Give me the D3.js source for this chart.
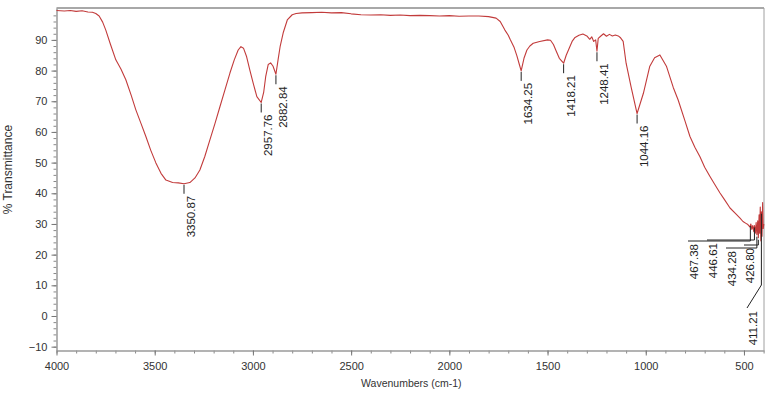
<!DOCTYPE html>
<html>
<head>
<meta charset="utf-8">
<script src="https://cdn.jsdelivr.net/npm/d3@7"></script>
<style>
  body { margin: 0; background: #fff; }
  text { font-family: "Liberation Sans", Arial, sans-serif; }
</style>
</head>
<body>
<div id="chart"></div>
<script>
// FTIR spectrum (wavenumber cm-1, %T)
var wavenumbers = [4000, 3960, 3930, 3900, 3870, 3840, 3817, 3800, 3783, 3765, 3749, 3725, 3698, 3672, 3647, 3620, 3596, 3570, 3545, 3520, 3494, 3468, 3443, 3409, 3380, 3350.87, 3321, 3295, 3270, 3245, 3219, 3193, 3168, 3142, 3117, 3095, 3075, 3061, 3048, 3032, 3015, 2999, 2980, 2957.76, 2945, 2935, 2922, 2910, 2898, 2882.84, 2872, 2861, 2845, 2825, 2800, 2780,
  2750, 2700, 2650, 2600, 2550, 2500, 2450, 2400, 2350, 2300, 2250, 2200, 2150, 2100, 2050, 2000, 1950, 1900, 1850, 1800, 1762, 1741, 1717, 1700, 1690, 1670, 1656, 1645, 1634.25, 1620, 1605, 1590, 1573, 1540, 1500, 1485, 1470, 1455, 1440, 1418.21, 1405, 1393, 1375, 1360, 1340, 1320, 1300, 1285, 1275, 1265, 1255, 1248.41, 1242, 1230, 1215, 1200, 1185, 1170, 1155, 1140, 1130, 1115, 1100, 1075, 1044.16, 1012, 980, 955, 928, 894, 860, 835, 800, 775, 750, 724, 700, 673, 650, 622, 600, 571, 545, 520, 505, 490, 480, 470, 465, 460, 455, 450, 446.61, 442, 438, 434.28, 430, 426.8, 423, 420, 417, 414, 411.21, 408, 405, 402, 399]
var transmittance = [99.6, 99.4, 99.6, 99.3, 99.5, 99.1, 99.0, 98.6, 97.8, 95.8, 93.2, 88.5, 83.5, 80.5, 77.0, 72.0, 67.2, 62.8, 58.5, 54.0, 49.9, 46.5, 44.3, 43.5, 43.4, 43.1, 43.5, 45.0, 47.6, 52.0, 57.4, 62.8, 68.2, 73.8, 79.2, 83.5, 86.7, 87.8, 87.3, 84.5, 80.0, 76.0, 71.5, 69.6, 73.0, 78.0, 82.0, 82.5, 81.5, 78.8, 83.5, 88.0, 92.5, 96.5, 98.2, 98.6,
  98.8, 98.9, 99.0, 98.8, 98.9, 98.5, 98.2, 98.1, 98.2, 98.0, 98.1, 97.9, 98.0, 97.9, 97.8, 97.9, 97.7, 97.8, 97.8, 97.6, 97.1, 96.0, 93.2, 91.5, 90.1, 87.5, 84.8, 82.3, 79.9, 84.0, 86.7, 88.0, 88.9, 89.5, 90.0, 89.9, 88.5, 86.2, 84.0, 82.4, 85.0, 86.8, 89.5, 90.8, 91.5, 91.9, 91.3, 90.2, 91.0, 89.5, 90.0, 86.3, 90.5, 91.2, 92.0, 91.2, 91.8, 91.3, 91.6, 91.3, 90.8, 89.5, 82.4, 74.8, 66.0, 72.6, 81.3, 84.2, 85.1, 81.3, 74.5, 70.4, 63.5, 58.5, 55.0, 51.9, 48.5, 45.5, 43.0, 40.1, 38.0, 35.2, 33.5, 31.9, 30.8, 30.2, 29.8, 29.0, 30.0, 28.2, 29.5, 27.5, 29.5, 27.0, 30.5, 26.5, 31.0, 25.5, 33.0, 27.0, 35.5, 24.5, 34.0, 26.0, 37.0, 28.5, 30.0]

var peakWaves = [3350.87, 2957.76, 2882.84, 1634.25, 1418.21, 1248.41, 1044.16, 467.38, 446.61, 434.28, 426.80, 411.21]

var xTicks = [4000, 3500, 3000, 2500, 2000, 1500, 1000, 500]
var yTicks = [-10, 0, 10, 20, 30, 40, 50, 60, 70, 80, 90]

// crowded labels at the low end get leader lines (pixel layout only)
var leaderLayout = {
  "467.38": { labelX: 688, elbowY: 241 },
  "446.61": { labelX: 707, elbowY: 240 },
  "434.28": { labelX: 726, elbowY: 248 },
  "426.80": { labelX: 744, elbowY: 245 },
  "411.21": { labelX: 747, elbowY: 285, dropY: 308 }
}

function drawChart() {
  var dimensions = {
    width: 773,
    height: 395,
    margin: { top: 8, right: 9, bottom: 44.5, left: 56.5 }
  }
  dimensions.boundedWidth = dimensions.width - dimensions.margin.left - dimensions.margin.right
  dimensions.boundedHeight = dimensions.height - dimensions.margin.top - dimensions.margin.bottom

  var data = wavenumbers.map((w, i) => ({ w: w, t: transmittance[i] }))
  var peakValue = w => {
    var i = wavenumbers.indexOf(w)
    return i >= 0 ? transmittance[i] : transmittance[d3.bisector(d => -d).left(wavenumbers, -w)]
  }

  var wrapper = d3.select("#chart")
    .append("svg")
    .attr("width", dimensions.width)
    .attr("height", dimensions.height)

  var bounds = wrapper.append("g")
    .attr("transform", `translate(${dimensions.margin.left},${dimensions.margin.top})`)

  var xScale = d3.scaleLinear()
    .domain([4000, 398])
    .range([0, dimensions.boundedWidth])

  var yScale = d3.scaleLinear()
    .domain([-11.25, 100.4])
    .range([dimensions.boundedHeight, 0])

  // frame: top and right edges
  bounds.append("line")
    .attr("x1", 0).attr("x2", dimensions.boundedWidth)
    .attr("y1", 0).attr("y2", 0)
    .attr("stroke", "#a8a8a8").attr("stroke-width", 2)
  bounds.append("line")
    .attr("x1", dimensions.boundedWidth).attr("x2", dimensions.boundedWidth)
    .attr("y1", 0).attr("y2", dimensions.boundedHeight)
    .attr("stroke", "#a0a0a0").attr("stroke-width", 1)

  // minor ticks
  var xMinorAxis = d3.axisBottom(xScale)
    .tickValues(d3.range(4000, 398, -100))
    .tickSize(3).tickFormat("")
  var yMinorAxis = d3.axisLeft(yScale)
    .tickValues(d3.range(-10, 100, 2))
    .tickSize(3).tickFormat("")

  bounds.append("g")
    .attr("transform", `translate(0,${dimensions.boundedHeight})`)
    .call(xMinorAxis)
    .call(g => g.select(".domain").remove())
    .call(g => g.selectAll("line").attr("stroke", "#888"))
  bounds.append("g")
    .call(yMinorAxis)
    .call(g => g.select(".domain").remove())
    .call(g => g.selectAll("line").attr("stroke", "#888"))

  var xAxisGenerator = d3.axisBottom(xScale)
    .tickValues(xTicks)
    .tickSize(5)
    .tickSizeOuter(0)
    .tickFormat(d3.format("d"))
  var yAxisGenerator = d3.axisLeft(yScale)
    .tickValues(yTicks)
    .tickSize(5)
    .tickSizeOuter(0)
    .tickFormat(d3.format("d"))

  var xAxis = bounds.append("g")
    .attr("class", "x axis")
    .attr("transform", `translate(0,${dimensions.boundedHeight})`)
    .call(xAxisGenerator)
  xAxis.select(".domain").attr("stroke", "#9a9a9a").attr("stroke-width", 1.5)
  xAxis.selectAll("line").attr("stroke", "#777")
  xAxis.selectAll("text")
    .attr("fill", "#333")
    .attr("font-size", 11)
    .attr("dy", "1.0em")

  var yAxis = bounds.append("g")
    .attr("class", "y axis")
    .call(yAxisGenerator)
  yAxis.select(".domain").attr("stroke", "#9a9a9a").attr("stroke-width", 1.5)
  yAxis.selectAll("line").attr("stroke", "#777")
  yAxis.selectAll("text")
    .attr("fill", "#333")
    .attr("font-size", 11)
    .attr("x", -9)

  // spectrum line
  var lineGenerator = d3.line()
    .x(d => xScale(d.w))
    .y(d => yScale(d.t))

  bounds.append("path")
    .datum(data)
    .attr("fill", "none")
    .attr("stroke", "#c23b3b")
    .attr("stroke-width", 1.1)
    .attr("stroke-linejoin", "round")
    .attr("d", lineGenerator)

  // peak labels
  var peaks = bounds.append("g").attr("class", "peaks")
  peakWaves.forEach(w => {
    var label = w.toFixed(2)
    var px = xScale(w)
    var py = yScale(peakValue(w))
    var lay = leaderLayout[label]
    var tx, ty
    if (!lay) {
      peaks.append("line")
        .attr("x1", px).attr("x2", px)
        .attr("y1", py + 1).attr("y2", py + 10)
        .attr("stroke", "#222").attr("stroke-width", 1)
      tx = px + 11
      ty = py + 12
    } else {
      var lx = lay.labelX - dimensions.margin.left
      var ey = lay.elbowY - dimensions.margin.top
      var pts
      if (lay.dropY) {
        var dy = lay.dropY - dimensions.margin.top
        pts = [[px, py + 2], [px, ey], [lx, dy]]
        ey = dy
      } else {
        pts = [[px, py + 2], [px, ey], [lx, ey]]
      }
      peaks.append("path")
        .attr("d", d3.line()(pts))
        .attr("fill", "none")
        .attr("stroke", "#222").attr("stroke-width", 1)
      tx = lx + 10
      ty = ey + 3
    }
    peaks.append("text")
      .attr("transform", `translate(${tx},${ty}) rotate(-90)`)
      .attr("text-anchor", "end")
      .attr("font-size", 11.5)
      .attr("fill", "#222")
      .text(label)
  })

  // axis titles
  wrapper.append("text")
    .attr("x", dimensions.margin.left + xScale(2000) - 38)
    .attr("y", 387)
    .attr("text-anchor", "middle")
    .attr("font-size", 10.5)
    .attr("fill", "#333")
    .text("Wavenumbers (cm-1)")

  wrapper.append("text")
    .attr("transform", `translate(12,${dimensions.margin.top + yScale(50) + 7}) rotate(-90)`)
    .attr("text-anchor", "middle")
    .attr("font-size", 12)
    .attr("fill", "#333")
    .text("% Transmittance")
}
drawChart()
</script>
</body>
</html>
